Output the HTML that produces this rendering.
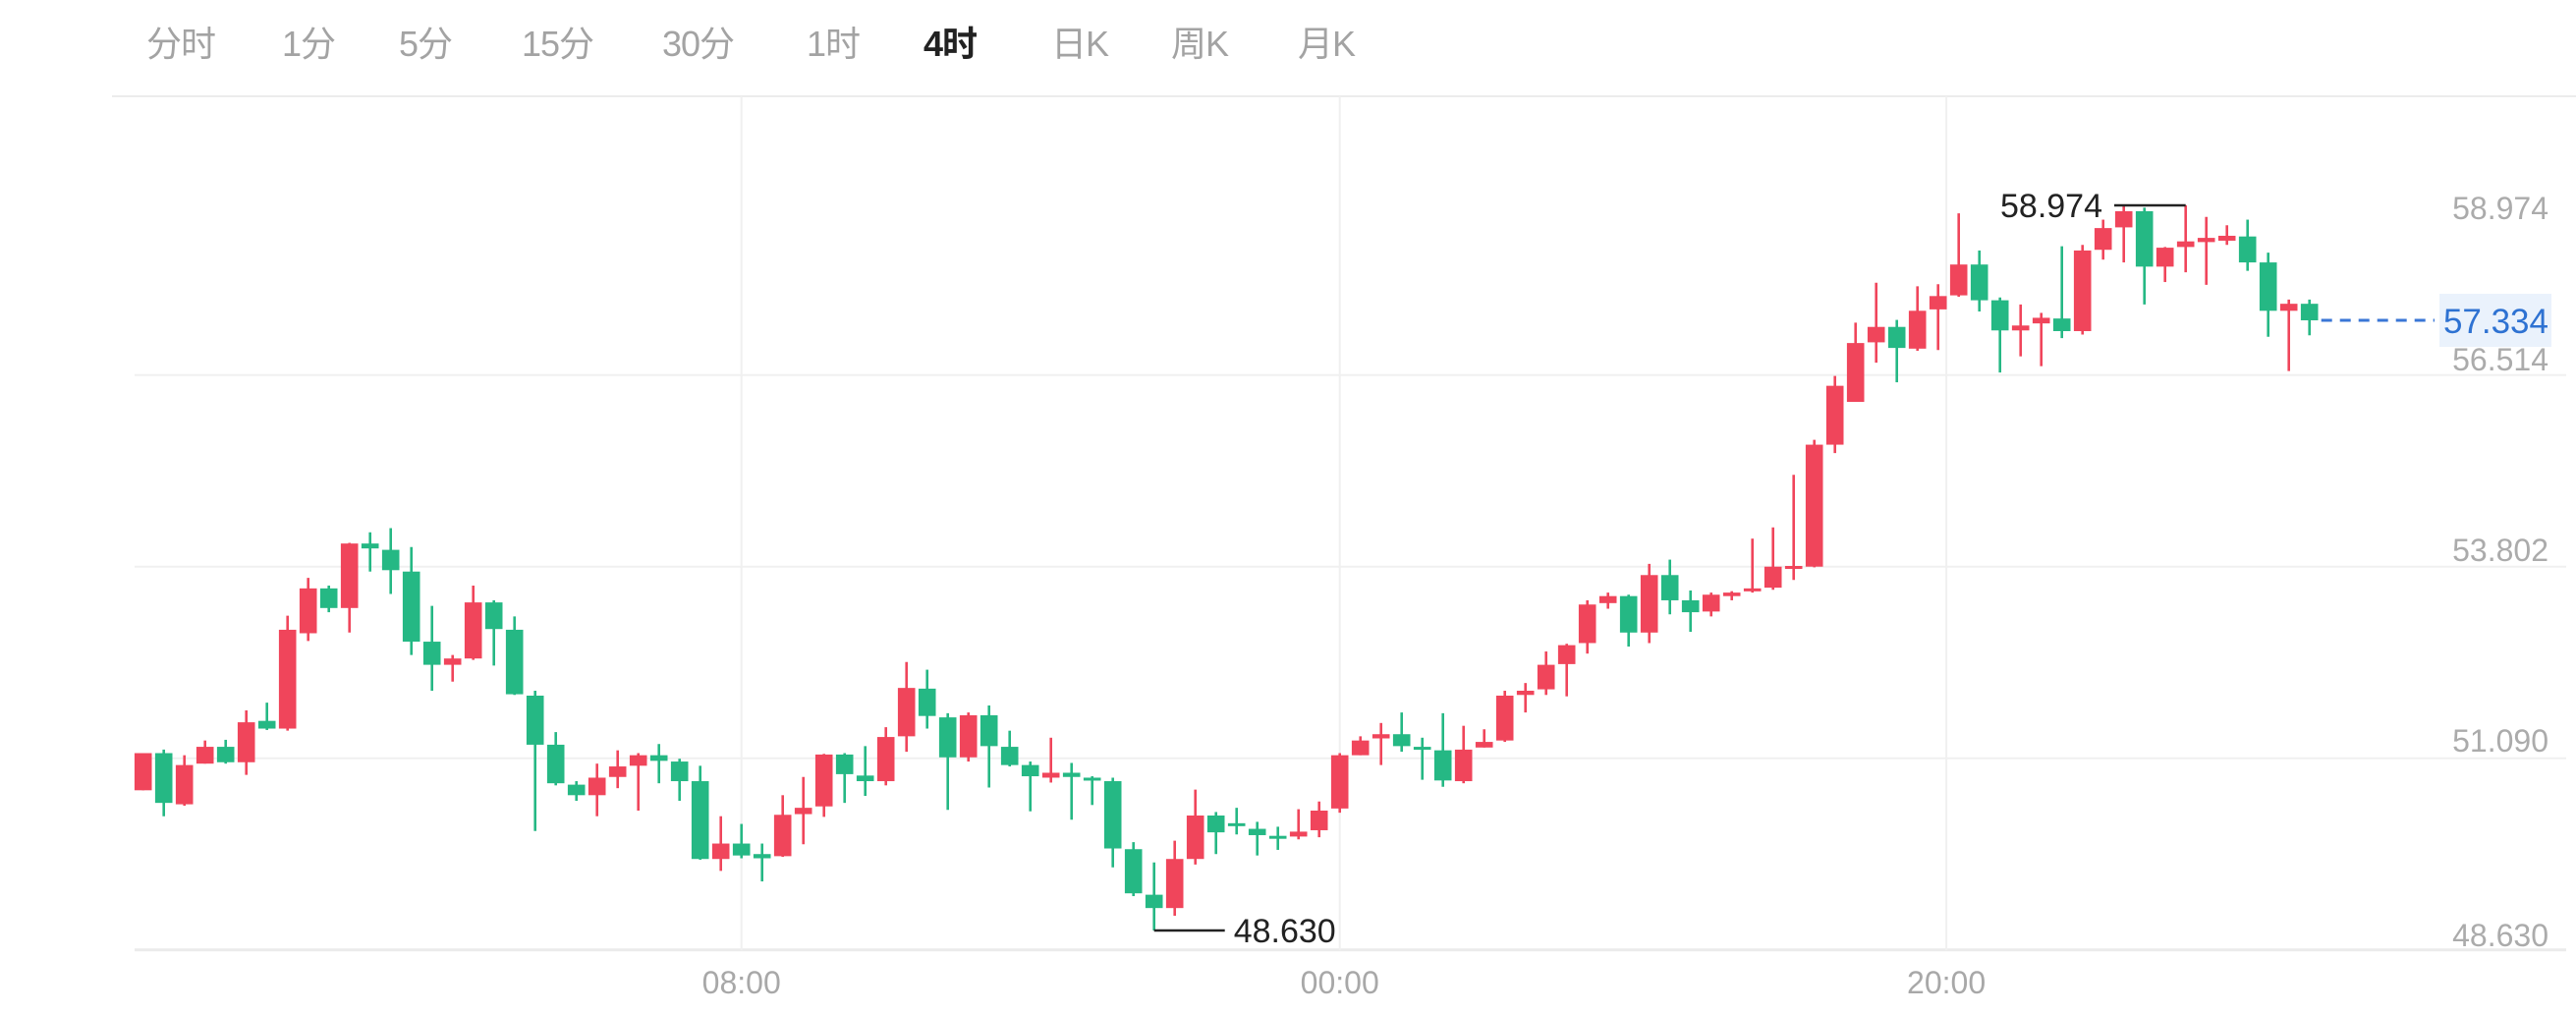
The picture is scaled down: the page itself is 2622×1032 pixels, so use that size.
<!DOCTYPE html>
<html><head><meta charset="utf-8">
<style>
html,body{margin:0;padding:0;background:#fff;}
body{width:2622px;height:1032px;overflow:hidden;position:relative;font-family:"Liberation Sans","Noto Sans CJK SC",sans-serif;}
.tab{position:absolute;top:20px;font-size:36px;color:#a3a3a3;line-height:50px;letter-spacing:-1px;}
.tab.active{color:#222;font-weight:bold;}
svg{position:absolute;left:0;top:0;}
</style></head>
<body>
<div>
<span class="tab" style="left:149px">分时</span>
<span class="tab" style="left:287px">1分</span>
<span class="tab" style="left:406px">5分</span>
<span class="tab" style="left:531px">15分</span>
<span class="tab" style="left:674px">30分</span>
<span class="tab" style="left:821px">1时</span>
<span class="tab active" style="left:940px">4时</span>
<span class="tab" style="left:1070px">日K</span>
<span class="tab" style="left:1192px">周K</span>
<span class="tab" style="left:1321px">月K</span>
</div>
<svg id="chart" width="2622" height="1032"></svg>
<script>
const opens=[50.63,51.16,50.43,51.01,51.25,51.03,51.62,51.51,52.87,53.51,53.23,54.15,54.06,53.75,52.75,52.42,52.51,53.31,52.92,51.98,51.28,50.71,50.56,50.82,50.98,51.13,51.04,50.76,49.65,49.87,49.72,49.69,50.29,50.40,51.14,50.84,50.76,51.40,52.08,51.67,51.10,51.70,51.25,50.99,50.81,50.88,50.81,50.76,49.79,49.14,48.95,49.65,50.27,50.16,50.08,49.98,49.97,50.06,50.37,51.13,51.37,51.43,51.25,51.20,50.76,51.24,51.34,51.99,52.07,52.43,52.73,53.30,53.40,52.88,53.70,53.34,53.18,53.40,53.49,53.52,53.81,53.82,55.56,56.17,57.02,57.24,56.93,57.49,57.69,58.13,57.62,57.19,57.29,57.36,57.18,58.34,58.66,58.89,58.10,58.38,58.45,58.47,58.53,58.16,57.47,57.57];
const highs=[51.16,51.21,51.13,51.34,51.35,51.77,51.88,53.12,53.66,53.55,54.16,54.31,54.37,54.10,53.26,52.56,53.55,53.34,53.11,52.05,51.46,50.76,51.01,51.20,51.16,51.29,51.08,50.98,50.26,50.15,49.87,50.56,50.82,51.15,51.16,51.26,51.53,52.46,52.35,51.73,51.74,51.84,51.48,51.04,51.38,51.02,50.83,50.81,49.89,49.60,49.91,50.64,50.32,50.38,50.18,50.11,50.36,50.47,51.16,51.40,51.59,51.74,51.38,51.73,51.55,51.50,52.05,52.16,52.61,52.72,53.34,53.45,53.42,53.86,53.92,53.48,53.45,53.47,54.22,54.38,55.13,55.63,56.54,57.30,57.87,57.34,57.82,57.85,58.86,58.33,57.66,57.56,57.44,58.39,58.41,58.77,58.974,58.94,58.38,58.974,58.81,58.69,58.77,58.30,57.63,57.63];
const lows=[50.63,50.26,50.41,51.01,51.01,50.85,51.49,51.48,52.76,53.17,52.88,53.75,53.43,52.56,52.05,52.18,52.49,52.41,51.99,50.05,50.70,50.48,50.26,50.66,50.34,50.73,50.48,49.64,49.48,49.66,49.33,49.68,49.86,50.25,50.45,50.55,50.70,51.18,51.51,50.35,51.04,50.67,50.97,50.33,50.74,50.21,50.42,49.53,49.12,48.63,48.84,49.57,49.72,50.00,49.70,49.78,49.93,49.96,50.31,51.13,50.99,51.18,50.78,50.68,50.73,51.24,51.32,51.74,51.99,51.97,52.58,53.22,52.68,52.73,53.14,52.89,53.11,53.34,53.45,53.49,53.63,53.81,55.44,56.17,56.73,56.45,56.90,56.91,57.67,57.46,56.59,56.82,56.68,57.08,57.13,58.20,58.16,57.56,57.88,58.02,57.84,58.41,58.04,57.10,56.61,57.12];
const closes=[51.16,50.45,50.99,51.25,51.03,51.60,51.51,52.92,53.51,53.23,54.15,54.08,53.77,52.75,52.42,52.51,53.31,52.93,52.00,51.28,50.73,50.56,50.81,50.97,51.13,51.05,50.76,49.65,49.87,49.70,49.66,50.28,50.38,51.14,50.86,50.76,51.39,52.09,51.69,51.10,51.70,51.26,50.99,50.83,50.88,50.82,50.77,49.80,49.16,48.95,49.65,50.27,50.03,50.12,49.99,49.95,50.04,50.34,51.13,51.34,51.43,51.26,51.21,50.77,51.21,51.32,51.98,52.05,52.42,52.70,53.28,53.40,52.88,53.70,53.34,53.17,53.42,53.45,53.51,53.82,53.83,55.56,56.40,57.01,57.24,56.94,57.47,57.68,58.13,57.62,57.19,57.26,57.37,57.18,58.33,58.65,58.89,58.10,58.37,58.46,58.51,58.54,58.16,57.47,57.57,57.334];
const yTickLabels=["58.974","56.514","53.802","51.090","48.630"];
const yTickPos=[212,366,560,754,952];
const timeLabels=["08:00","00:00","20:00"];
const timeIdx=[29,58,87.4];

const NS="http://www.w3.org/2000/svg";
const svg=document.getElementById('chart');
const PMIN=48.63,PMAX=58.974,YMIN=947,YMAX=209;
function y(p){return YMIN-(p-PMIN)*(YMIN-YMAX)/(PMAX-PMIN);}
function x(i){return 145.7+i*21;}
function mk(tag,attrs){const e=document.createElementNS(NS,tag);for(const k in attrs)e.setAttribute(k,attrs[k]);svg.appendChild(e);return e;}

let e;
e=mk('line',{x1:114,y1:98,x2:2622,y2:98,stroke:'#ececec','stroke-width':2});


[381.7,576.7,771.7].forEach(gy=>{
  e=mk('line',{x1:137,y1:gy,x2:2612,y2:gy,stroke:'#f0f0f0','stroke-width':2});
  
  
});
e=mk('line',{x1:137,y1:966.7,x2:2612,y2:966.7,stroke:'#ebebeb','stroke-width':3});


timeIdx.forEach((ti,k)=>{
  const gx=x(ti);
  e=mk('line',{x1:gx,y1:98,x2:gx,y2:967,stroke:'#f0f0f0','stroke-width':2});
  
  
  e=mk('text',{x:gx,y:1011,'text-anchor':'middle','font-size':32,fill:'#a8a8a8','font-family':'Liberation Sans, sans-serif'});
  e.textContent=timeLabels[k];
  
  
});
yTickLabels.forEach((t,k)=>{
  e=mk('text',{x:2594,y:yTickPos[k]+11,'text-anchor':'end','font-size':32,fill:'#ababab','font-family':'Liberation Sans, sans-serif'});
  e.textContent=t;
  
  
});
const RED='#f0455b',GREEN='#25b884';
for(let i=0;i<opens.length;i++){
  const up=closes[i]>=opens[i];const col=up?RED:GREEN;const cx=x(i);
  e=mk('line',{x1:cx,y1:y(highs[i]),x2:cx,y2:y(lows[i]),stroke:col,'stroke-width':2.6});
  
  
  const t=y(Math.max(opens[i],closes[i])),b=y(Math.min(opens[i],closes[i]));
  e=mk('rect',{x:cx-8.8,y:t,width:17.6,height:Math.max(b-t,3),fill:col});
  
  
}
// min marker
const minI=lows.indexOf(Math.min(...lows));
e=mk('line',{x1:x(minI),y1:y(lows[minI]),x2:x(minI)+72,y2:y(lows[minI]),stroke:'#222','stroke-width':2.5});


e=mk('text',{x:x(minI)+81,y:y(lows[minI])+12,'font-size':34,fill:'#222','font-family':'Liberation Sans, sans-serif'});
e.textContent=Math.min(...lows).toFixed(3);


// max marker
const maxV=Math.max(...highs);
e=mk('line',{x1:2152,y1:y(maxV),x2:x(99),y2:y(maxV),stroke:'#222','stroke-width':2.5});


e=mk('text',{x:2140,y:y(maxV)+12,'text-anchor':'end','font-size':34,fill:'#222','font-family':'Liberation Sans, sans-serif'});
e.textContent=maxV.toFixed(3);


// current price
const last=closes[closes.length-1];
e=mk('line',{x1:x(closes.length-1)+12,y1:y(last),x2:2478,y2:y(last),stroke:'#3a76d6','stroke-width':3,'stroke-dasharray':'11 8'});


e=mk('rect',{x:2483,y:y(last)-27,width:114,height:54,fill:'#eaf2fc'});


e=mk('text',{x:2594,y:y(last)+13,'text-anchor':'end','font-size':35,fill:'#2e72d2','font-family':'Liberation Sans, sans-serif'});
e.textContent=last.toFixed(3);


</script>
</body></html>
